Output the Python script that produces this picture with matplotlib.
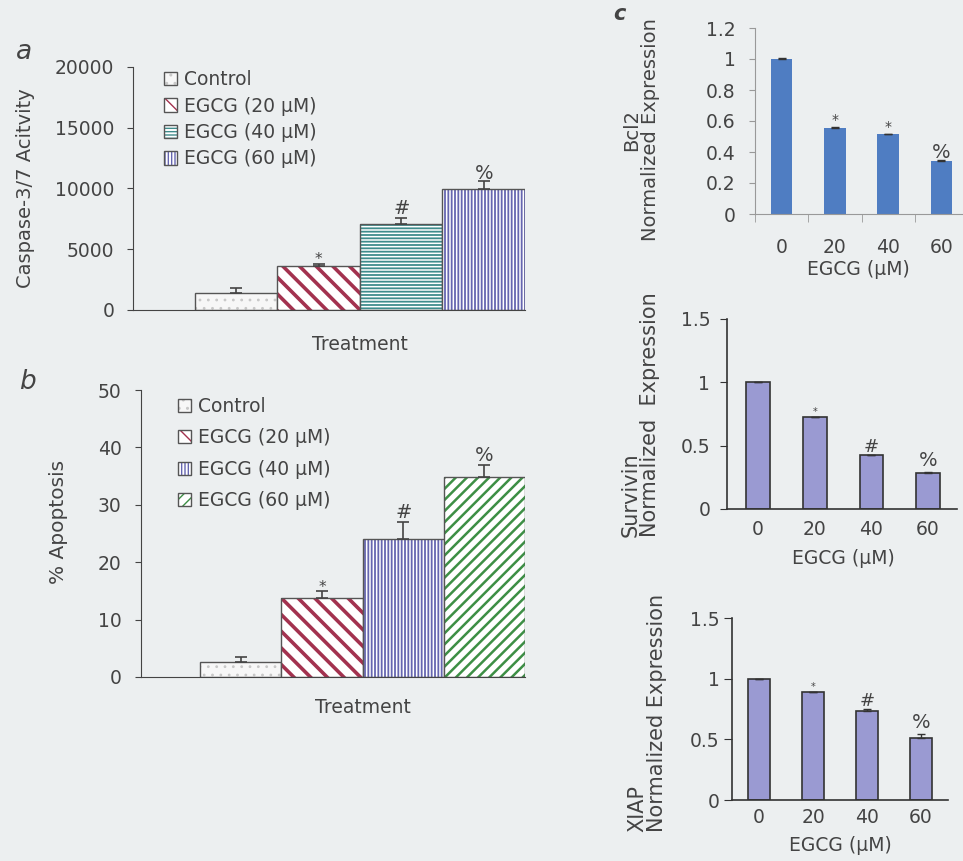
import matplotlib
matplotlib.use("Agg")
import matplotlib.pyplot as plt
from matplotlib.patches import Patch

plt.rcParams["font.family"] = ["DejaVu Sans"]
plt.rcParams["text.color"] = "#444444"
plt.rcParams["axes.labelcolor"] = "#444444"
plt.rcParams["xtick.color"] = "#444444"
plt.rcParams["ytick.color"] = "#444444"

BG = "#eceff0"
FS = 13.5

# --- data ---
groups = ["Control", "EGCG (20 µM)", "EGCG (40 µM)", "EGCG (60 µM)"]
conc = ["0", "20", "40", "60"]

casp = [1400, 3650, 7100, 9980]
casp_err = [380, 150, 480, 600]
casp_sig = ["", "*", "#", "%"]

apop = [2.6, 13.7, 24.0, 34.8]
apop_err = [0.9, 1.3, 3.0, 2.2]
apop_sig = ["", "*", "#", "%"]

bcl2 = [1.0, 0.557, 0.514, 0.342]
bcl2_err = [0.004, 0.006, 0.005, 0.005]
bcl2_sig = ["", "*", "*", "%"]

surv = [1.0, 0.73, 0.43, 0.287]
surv_err = [0.0, 0.0, 0.0, 0.006]
surv_sig = ["", "*", "#", "%"]

xiap = [1.0, 0.89, 0.73, 0.51]
xiap_err = [0.0, 0.0, 0.02, 0.035]
xiap_sig = ["", "*", "#", "%"]

# styles: (face, hatch, hatch colour, hatch linewidth)
ctrl_style = ("#f7f7f7", "..", "#c8c8c8", 0.8)
red_style = ("white", "\\\\", "#a3324f", 2.6)
teal_style = ("white", "-----", "#3f8c8c", 1.3)
blue_style = ("white", "|||||", "#6666b0", 1.3)
green_style = ("white", "///", "#3d8f45", 1.8)

styles_a = [ctrl_style, red_style, teal_style, blue_style]
styles_b = [ctrl_style, red_style, blue_style, green_style]


def rect(l, t, r, b):
    return [l / 963, 1 - b / 861, (r - l) / 963, (b - t) / 861]


def hatched_bar(ax, x, h, w, style, edge="#555555"):
    face, hatch, hcol, hlw = style
    with plt.rc_context({"hatch.linewidth": hlw, "hatch.color": hcol}):
        ax.bar(x, h, w, color=face, hatch=hatch, edgecolor=hcol, linewidth=0)
    ax.bar(x, h, w, fill=False, edgecolor=edge, linewidth=1.0)


def legend_handle(style, edge="#555555"):
    face, hatch, hcol, hlw = style
    with plt.rc_context({"hatch.linewidth": hlw, "hatch.color": hcol}):
        p1 = Patch(facecolor=face, hatch=hatch, edgecolor=hcol, linewidth=0)
    p2 = Patch(fill=False, edgecolor=edge, linewidth=1.0)
    return (p1, p2)


def add_sig(ax, xs, tops, marks, dy_pts, sizes):
    for x, t, m in zip(xs, tops, marks):
        if m:
            ax.annotate(m, (x, t), xytext=(0, dy_pts[m]), textcoords="offset points",
                        ha="center", va="bottom", fontsize=sizes[m], color="#444444")


fig = plt.figure(figsize=(9.63, 8.61), dpi=100, facecolor=BG)

# ---------- panel a ----------
ax = fig.add_axes(rect(133, 67, 525, 310))
ax.set_facecolor("none")
xs = range(len(casp))
for i in xs:
    hatched_bar(ax, i, casp[i], 1.0, styles_a[i])
ax.errorbar(list(xs), casp, yerr=[[0] * 4, casp_err], fmt="none", ecolor="#444444",
            capsize=4, elinewidth=1.2, capthick=1.2)
add_sig(ax, xs, [c + e for c, e in zip(casp, casp_err)], casp_sig,
        {"*": -2, "#": 0, "%": -1}, {"*": 11, "#": 14, "%": 14})
ax.set_xlim(-1.25, 3.5)
ax.set_ylim(0, 20000)
ax.set_yticks([0, 5000, 10000, 15000, 20000])
ax.set_xticks([])
ax.tick_params(axis="y", direction="out", length=4.5, labelsize=FS, pad=9)
for s in ["top", "right"]:
    ax.spines[s].set_visible(False)
for s in ["left", "bottom"]:
    ax.spines[s].set_color("#444444")
ax.set_ylabel("Caspase-3/7 Acitvity", fontsize=14)
ax.yaxis.set_label_coords(-0.25, 0.5)
ax.text(1.5, -0.14, "Treatment", transform=ax.get_xaxis_transform(),
        ha="center", va="center", fontsize=FS)
ax.legend([legend_handle(s) for s in styles_a], groups, loc="upper left",
          bbox_to_anchor=(164 / 963, 1 - 70 / 861), bbox_transform=fig.transFigure,
          frameon=False, fontsize=FS, handlelength=0.7, handleheight=0.7,
          handletextpad=0.35, labelspacing=0.4, borderpad=0, borderaxespad=0)
fig.text(24 / 963, 1 - 52 / 861, "a", fontsize=19, style="italic", ha="center", va="center")

# ---------- panel b ----------
ax = fig.add_axes(rect(141, 390, 525, 677))
ax.set_facecolor("none")
xs = range(len(apop))
for i in xs:
    hatched_bar(ax, i, apop[i], 1.0, styles_b[i])
ax.errorbar(list(xs), apop, yerr=[[0] * 4, apop_err], fmt="none", ecolor="#444444",
            capsize=4, elinewidth=1.2, capthick=1.2)
add_sig(ax, xs, [c + e for c, e in zip(apop, apop_err)], apop_sig,
        {"*": -3, "#": 0, "%": 0}, {"*": 11, "#": 14, "%": 14})
ax.set_xlim(-1.23, 3.5)
ax.set_ylim(0, 50)
ax.set_yticks([0, 10, 20, 30, 40, 50])
ax.set_xticks([])
ax.tick_params(axis="y", direction="out", length=4.5, labelsize=FS, pad=9.5)
for s in ["top", "right"]:
    ax.spines[s].set_visible(False)
for s in ["left", "bottom"]:
    ax.spines[s].set_color("#444444")
ax.set_ylabel("% Apoptosis", fontsize=14.5)
ax.yaxis.set_label_coords(-0.19, 0.54)
ax.text(1.5, -0.105, "Treatment", transform=ax.get_xaxis_transform(),
        ha="center", va="center", fontsize=FS)
ax.legend([legend_handle(s) for s in styles_b], groups, loc="upper left",
          bbox_to_anchor=(178 / 963, 1 - 397 / 861), bbox_transform=fig.transFigure,
          frameon=False, fontsize=FS, handlelength=0.7, handleheight=0.7,
          handletextpad=0.35, labelspacing=0.66, borderpad=0, borderaxespad=0)
fig.text(27 / 963, 1 - 382 / 861, "b", fontsize=19, style="italic", ha="center", va="center")

# ---------- panel c: Bcl2 ----------
ax = fig.add_axes(rect(755, 28, 968, 214))
ax.set_facecolor("none")
xs = list(range(4))
ax.bar(xs, bcl2, 0.4, color="#4f7dc2", linewidth=0)
ax.errorbar(xs, bcl2, yerr=[[0] * 4, bcl2_err], fmt="none", ecolor="#333333",
            capsize=3, elinewidth=1, capthick=1)
add_sig(ax, xs, [c + e for c, e in zip(bcl2, bcl2_err)], bcl2_sig,
        {"*": 0, "#": 0, "%": -1}, {"*": 10, "#": 13, "%": 14})
ax.set_xlim(-0.5, 3.5)
ax.set_ylim(0, 1.2)
ax.set_yticks([0, 0.2, 0.4, 0.6, 0.8, 1.0, 1.2])
ax.set_yticklabels(["0", "0.2", "0.4", "0.6", "0.8", "1", "1.2"])
ax.set_xticks(xs)
ax.set_xticklabels(conc)
ax.set_xticks([-0.5, 0.5, 1.5, 2.5], minor=True)
ax.tick_params(axis="x", which="major", length=0, labelsize=FS, pad=17)
ax.tick_params(axis="x", which="minor", direction="out", length=6, color="#999999")
ax.tick_params(axis="y", direction="out", length=4, color="#999999", labelsize=FS, pad=10)
for s in ["top", "right"]:
    ax.spines[s].set_visible(False)
for s in ["left", "bottom"]:
    ax.spines[s].set_color("#999999")
ax.text(1.45, -0.3, "EGCG (µM)", transform=ax.get_xaxis_transform(),
        ha="center", va="center", fontsize=FS)
fig.text(641 / 963, 1 - 130 / 861, "Bcl2\nNormalized Expression", rotation=90,
         ha="center", va="center", multialignment="center", fontsize=14,
         linespacing=1.0)
fig.text(619 / 963, 1 - 14 / 861, "c", fontsize=15, style="italic", weight="bold",
         ha="center", va="center")

# ---------- panel c: Survivin ----------
ax = fig.add_axes(rect(727, 319, 957, 509))
ax.set_facecolor("none")
ax.bar(xs, surv, 0.42, color="#9a9ad2", edgecolor="#333333", linewidth=1.2)
ax.errorbar(xs, surv, yerr=[[0] * 4, surv_err], fmt="none", ecolor="#333333",
            capsize=3, elinewidth=1, capthick=1)
add_sig(ax, xs, [c + e for c, e in zip(surv, surv_err)], surv_sig,
        {"*": 0, "#": -1, "%": 1}, {"*": 7, "#": 13, "%": 14})
ax.set_xlim(-0.55, 3.51)
ax.set_ylim(0, 1.5)
ax.set_yticks([0, 0.5, 1.0, 1.5])
ax.set_yticklabels(["0", "0.5", "1", "1.5"])
ax.set_xticks(xs)
ax.set_xticklabels(conc)
ax.tick_params(axis="x", length=0, labelsize=FS, pad=8)
ax.tick_params(axis="y", direction="out", length=5, color="#333333", labelsize=FS, pad=7)
for s in ["top", "right"]:
    ax.spines[s].set_visible(False)
for s in ["left", "bottom"]:
    ax.spines[s].set_color("#333333")
    ax.spines[s].set_linewidth(1.2)
ax.text(1.5, -0.26, "EGCG (µM)", transform=ax.get_xaxis_transform(),
        ha="center", va="center", fontsize=FS)
fig.text(640 / 963, 1 - 537 / 861, "Survivin\nNormalized  Expression", rotation=90,
         ha="center", va="bottom", multialignment="left", fontsize=15,
         linespacing=0.95)

# ---------- panel c: XIAP ----------
ax = fig.add_axes(rect(732, 618, 948, 800))
ax.set_facecolor("none")
ax.bar(xs, xiap, 0.41, color="#9a9ad2", edgecolor="#333333", linewidth=1.2)
ax.errorbar(xs, xiap, yerr=[[0] * 4, xiap_err], fmt="none", ecolor="#333333",
            capsize=3, elinewidth=1, capthick=1)
add_sig(ax, xs, [c + e for c, e in zip(xiap, xiap_err)], xiap_sig,
        {"*": 0, "#": -1, "%": 1}, {"*": 7, "#": 13, "%": 14})
ax.set_xlim(-0.5, 3.5)
ax.set_ylim(0, 1.5)
ax.set_yticks([0, 0.5, 1.0, 1.5])
ax.set_yticklabels(["0", "0.5", "1", "1.5"])
ax.set_xticks(xs)
ax.set_xticklabels(conc)
ax.tick_params(axis="x", length=0, labelsize=FS, pad=6)
ax.tick_params(axis="y", direction="out", length=6, color="#333333", labelsize=FS, pad=3)
for s in ["top", "right"]:
    ax.spines[s].set_visible(False)
for s in ["left", "bottom"]:
    ax.spines[s].set_color("#333333")
    ax.spines[s].set_linewidth(1.2)
ax.text(1.5, -0.25, "EGCG (µM)", transform=ax.get_xaxis_transform(),
        ha="center", va="center", fontsize=FS)
fig.text(647 / 963, 1 - 832 / 861, "XIAP\nNormalized Expression", rotation=90,
         ha="center", va="bottom", multialignment="left", fontsize=15,
         linespacing=0.95)

fig.savefig("out.png", dpi=100, facecolor=BG)
